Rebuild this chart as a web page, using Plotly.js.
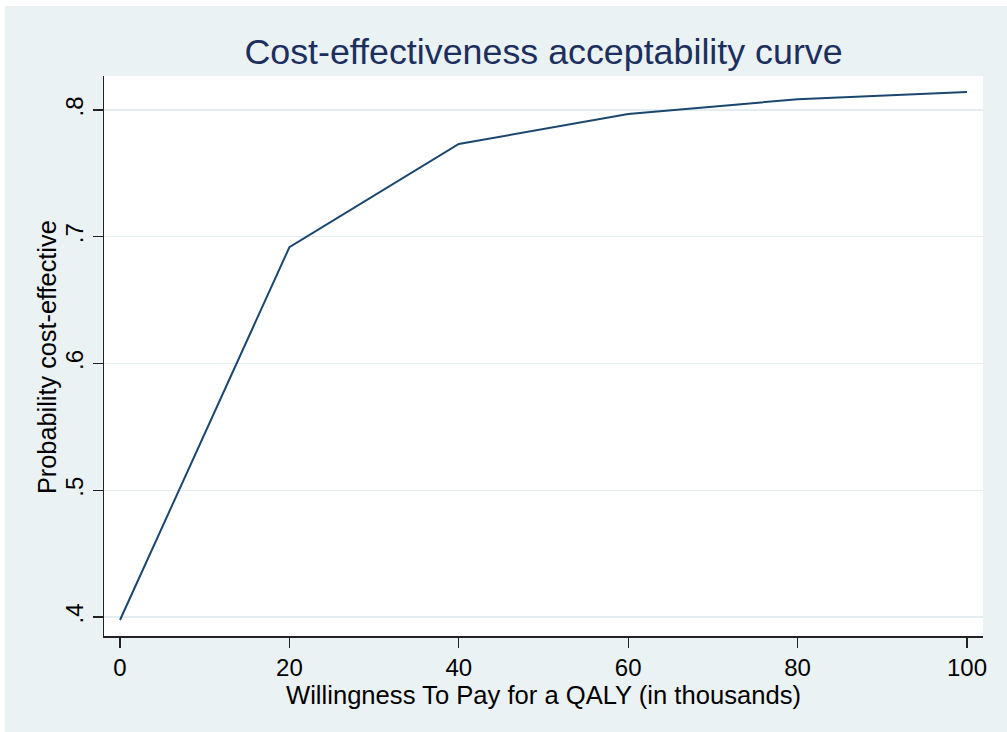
<!DOCTYPE html>
<html>
<head>
<meta charset="utf-8">
<script src="https://cdn.plot.ly/plotly-3.0.1.min.js"></script>
<style>html,body{margin:0;padding:0;background:#fff;}#chart{width:1007px;height:732px;}</style>
</head>
<body>
<div id="chart"></div>
<script>
// Data
const wtp = [0, 20, 40, 60, 80, 100];              // Willingness to pay (thousands)
const probCE = [0.3976, 0.6917, 0.7732, 0.7968, 0.8085, 0.8142]; // Probability cost-effective
const xTickVals = [0, 20, 40, 60, 80, 100];
const xTickText = ["0", "20", "40", "60", "80", "100"];
const yTickVals = [0.4, 0.5, 0.6, 0.7, 0.8];
const yTickText = [".4", ".5", ".6", ".7", ".8"];

const FONT = "Liberation Sans, Arial, sans-serif";
const BG = "#EAF2F3";

const trace = {
  x: wtp, y: probCE, type: "scatter", mode: "lines",
  line: {color: "#1A476F", width: 2},
  hoverinfo: "skip", showlegend: false
};

const layout = {
  width: 1007, height: 732,
  paper_bgcolor: BG,
  plot_bgcolor: "#ffffff",
  margin: {l: 104, r: 24, t: 76, b: 96, pad: 0},
  font: {family: FONT, color: "#000000"},
  title: {
    text: "Cost-effectiveness acceptability curve",
    font: {family: FONT, size: 35.8, color: "#1C2F5E"},
    xref: "paper", x: 0.5, xanchor: "center",
    yref: "container", y: 1 - 51/732, yanchor: "middle"
  },
  xaxis: {
    range: [-1.89, 101.89],
    tickmode: "array", tickvals: xTickVals, ticktext: xTickText,
    ticks: "outside", ticklen: 10, tickwidth: 1.3, tickcolor: "#222",
    showline: true, linecolor: "#222", linewidth: 1.5,
    showgrid: false, zeroline: false,
    tickfont: {family: FONT, size: 24, color: "#000"},
    title: {text: "Willingness To Pay for a QALY (in thousands)", font: {family: FONT, size: 25.6, color: "#000"}, standoff: 1}
  },
  yaxis: {
    range: [0.385, 0.8268],
    tickmode: "array", tickvals: yTickVals, ticktext: yTickText,
    tickangle: -90,
    ticks: "outside", ticklen: 10, tickwidth: 1.3, tickcolor: "#222",
    showline: true, linecolor: "#222", linewidth: 1.5,
    showgrid: true, gridcolor: "#E4EDF0", gridwidth: 1.2,
    zeroline: false,
    tickfont: {family: FONT, size: 24, color: "#000"}
  },
  annotations: [
    {text: "Probability cost-effective", textangle: -90, showarrow: false,
     xref: "paper", yref: "paper", x: (47-104)/879, y: (636-357)/560,
     xanchor: "center", yanchor: "middle",
     font: {family: FONT, size: 25.3, color: "#000"}}
  ],
  shapes: [
    {type: "rect", xref: "paper", yref: "paper", layer: "below",
     x0: -0.2, x1: 1.1, y0: (636-6)/560, y1: 1.2, fillcolor: "#ffffff", line: {width: 0}},
    {type: "rect", xref: "paper", yref: "paper", layer: "below",
     x0: -0.2, x1: (5-104)/879, y0: -0.3, y1: 1.2, fillcolor: "#ffffff", line: {width: 0}}
  ]
};

Plotly.newPlot("chart", [trace], layout, {displayModeBar: false, staticPlot: true});
</script>
</body>
</html>
